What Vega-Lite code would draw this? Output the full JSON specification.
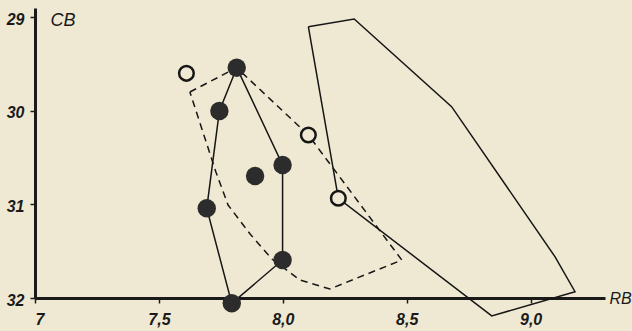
{
  "$schema": "https://vega.github.io/schema/vega-lite/v6.json",
  "width": 570,
  "height": 290,
  "autosize": {"type": "none"},
  "padding": {"left": 35, "top": 8, "right": 27, "bottom": 33},
  "background": "#efe9d3",
  "config": {
    "view": {"stroke": null},
    "axis": {
      "grid": false,
      "domainWidth": 3,
      "domainColor": "#1a1a1a",
      "tickSize": 5,
      "tickWidth": 1.5,
      "tickColor": "#1a1a1a",
      "labelFont": "Liberation Sans",
      "labelFontStyle": "italic",
      "labelFontWeight": "bold",
      "labelFontSize": 16,
      "labelColor": "#1a1a1a",
      "titleFont": "Liberation Sans",
      "titleFontStyle": "italic",
      "titleFontWeight": "normal",
      "titleFontSize": 18,
      "titleColor": "#1a1a1a",
      "titleAngle": 0,
      "titleAlign": "left",
      "titleBaseline": "middle"
    }
  },
  "datasets": {
    "polys": [
      {"poly": "A", "ord": 0, "rb": 7.814, "cb": 29.538},
      {"poly": "A", "ord": 1, "rb": 7.999, "cb": 30.578},
      {"poly": "A", "ord": 2, "rb": 7.999, "cb": 31.594},
      {"poly": "A", "ord": 3, "rb": 7.794, "cb": 32.057},
      {"poly": "A", "ord": 4, "rb": 7.693, "cb": 31.041},
      {"poly": "A", "ord": 5, "rb": 7.744, "cb": 30.001},
      {"poly": "A", "ord": 6, "rb": 7.814, "cb": 29.538},
      {"poly": "B", "ord": 0, "rb": 8.103, "cb": 29.100},
      {"poly": "B", "ord": 1, "rb": 8.288, "cb": 29.018},
      {"poly": "B", "ord": 2, "rb": 8.681, "cb": 29.955},
      {"poly": "B", "ord": 3, "rb": 9.098, "cb": 31.558},
      {"poly": "B", "ord": 4, "rb": 9.179, "cb": 31.933},
      {"poly": "B", "ord": 5, "rb": 8.843, "cb": 32.192},
      {"poly": "B", "ord": 6, "rb": 8.224, "cb": 30.934},
      {"poly": "B", "ord": 7, "rb": 8.103, "cb": 29.100},
      {"poly": "C", "ord": 0, "rb": 7.625, "cb": 29.798},
      {"poly": "C", "ord": 1, "rb": 7.814, "cb": 29.538},
      {"poly": "C", "ord": 2, "rb": 8.103, "cb": 30.258},
      {"poly": "C", "ord": 3, "rb": 8.480, "cb": 31.594},
      {"poly": "C", "ord": 4, "rb": 8.190, "cb": 31.904},
      {"poly": "C", "ord": 5, "rb": 8.069, "cb": 31.808},
      {"poly": "C", "ord": 6, "rb": 7.956, "cb": 31.583},
      {"poly": "C", "ord": 7, "rb": 7.868, "cb": 31.316},
      {"poly": "C", "ord": 8, "rb": 7.779, "cb": 31.006},
      {"poly": "C", "ord": 9, "rb": 7.730, "cb": 30.653},
      {"poly": "C", "ord": 10, "rb": 7.625, "cb": 29.798}
    ],
    "points": [
      {"type": "filled", "rb": 7.814, "cb": 29.538},
      {"type": "filled", "rb": 7.744, "cb": 30.001},
      {"type": "filled", "rb": 7.999, "cb": 30.578},
      {"type": "filled", "rb": 7.888, "cb": 30.696},
      {"type": "filled", "rb": 7.693, "cb": 31.041},
      {"type": "filled", "rb": 7.999, "cb": 31.594},
      {"type": "filled", "rb": 7.794, "cb": 32.057},
      {"type": "open", "rb": 7.611, "cb": 29.598},
      {"type": "open", "rb": 8.103, "cb": 30.258},
      {"type": "open", "rb": 8.224, "cb": 30.934}
    ]
  },
  "encoding": {
    "x": {
      "field": "rb",
      "type": "quantitative",
      "scale": {"domain": [7, 9.3], "nice": false, "zero": false},
      "axis": {
        "values": [7, 7.5, 8, 8.5, 9],
        "labelExpr": "datum.value == 7 ? '7' : replace(format(datum.value, '.1f'), '.', ',')",
        "labelPadding": 8,
        "title": "RB",
        "titleFontSize": 16,
        "titleX": 574,
        "titleY": 0
      }
    },
    "y": {
      "field": "cb",
      "type": "quantitative",
      "scale": {"domain": [28.9, 32], "nice": false, "zero": false, "reverse": true},
      "axis": {
        "values": [29, 30, 31, 32],
        "format": "d",
        "labelPadding": 6,
        "labelOffset": 2,
        "title": "CB",
        "titleX": 15,
        "titleY": 12
      }
    }
  },
  "layer": [
    {
      "data": {"name": "polys"},
      "transform": [{"filter": "datum.poly != 'C'"}],
      "mark": {"type": "line", "color": "#161616", "strokeWidth": 1.5},
      "encoding": {
        "detail": {"field": "poly"},
        "order": {"field": "ord", "type": "quantitative"}
      }
    },
    {
      "data": {"name": "polys"},
      "transform": [{"filter": "datum.poly == 'C'"}],
      "mark": {"type": "line", "color": "#161616", "strokeWidth": 1.5, "strokeDash": [7, 5]},
      "encoding": {
        "detail": {"field": "poly"},
        "order": {"field": "ord", "type": "quantitative"}
      }
    },
    {
      "data": {"name": "points"},
      "transform": [{"filter": "datum.type == 'filled'"}],
      "mark": {"type": "circle", "size": 340, "fill": "#2c2c2c", "opacity": 1}
    },
    {
      "data": {"name": "points"},
      "transform": [{"filter": "datum.type == 'open'"}],
      "mark": {"type": "point", "shape": "circle", "size": 215, "filled": false, "fill": "#efe9d3", "fillOpacity": 1, "stroke": "#161616", "strokeWidth": 2.5, "opacity": 1}
    }
  ]
}
